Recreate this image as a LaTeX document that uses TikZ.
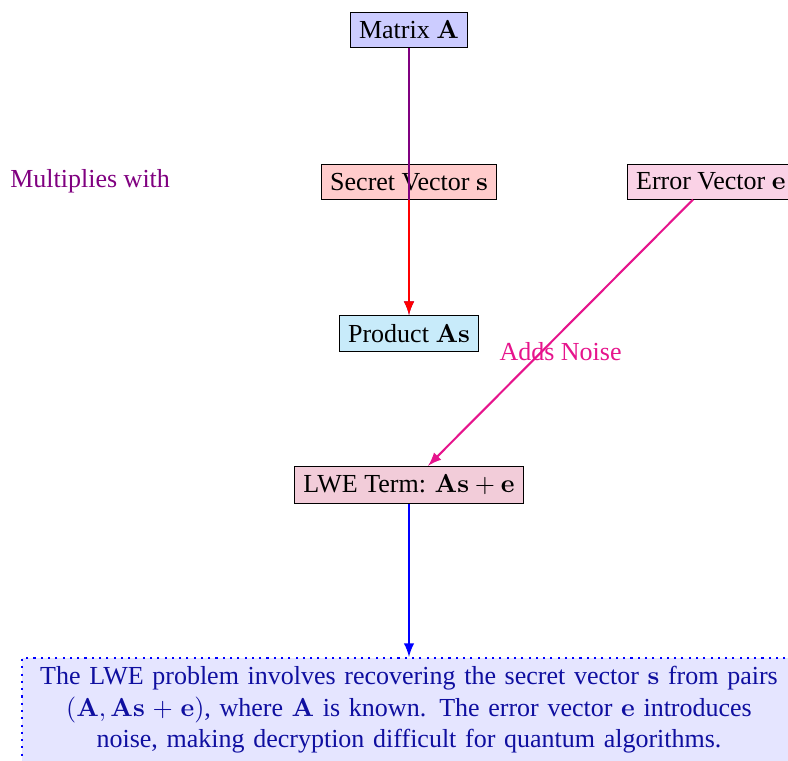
\documentclass[tikz,border=0pt]{standalone}
\usepackage[no-math]{fontspec}
\setmainfont{Liberation Serif}
\usetikzlibrary{arrows}
\definecolor{noisepink}{RGB}{230,20,140}
\definecolor{errfill}{RGB}{250,210,230}
\definecolor{prodfill}{RGB}{200,235,250}
\definecolor{notetext}{RGB}{15,15,160}
\begin{document}
\begin{tikzpicture}[box/.style={draw=black, rectangle},
	link/.style={thick, -latex}]
	\useasboundingbox (-5.529,0.4055) rectangle (5.123,-9.881);
	\node [box, fill=blue!20] (matA) at (0,0) {Matrix $\mathbf{A}$};
	\node [box, fill=red!20] (secS) at (0,-2.05) {Secret Vector $\mathbf{s}$};
	\node [box, fill=errfill] (errE) at (4.08,-2.05) {Error Vector $\mathbf{e}$};
	\node [box, fill=prodfill] (prodAs) at (0,-4.1) {Product $\mathbf{A}\mathbf{s}$};
	\node [box, fill=purple!20] (lwe) at (0,-6.15) {LWE Term: $\mathbf{A}\mathbf{s} + \mathbf{e}$};
	\node [draw=blue, dotted, thick, fill=blue!10, text=notetext, text width=291pt,
		align=center, anchor=north] (expl) at (0,-8.475)
		{The LWE problem involves recovering the secret vector $\mathbf{s}$ from pairs\\
		$(\mathbf{A}, \mathbf{A}\mathbf{s} + \mathbf{e})$, where $\mathbf{A}$ is known. The error vector $\mathbf{e}$ introduces\\
		noise, making decryption difficult for quantum algorithms.};
	\draw [link, violet] (matA) -- (prodAs) node [midway, left=3.1cm] {Multiplies with};
	\draw [link, red] (secS) -- (prodAs);
	\draw [link, noisepink] (errE) -- (lwe) node [midway, below] {Adds Noise};
	\draw [link, blue] (lwe) -- (expl);
\end{tikzpicture}
\end{document}
